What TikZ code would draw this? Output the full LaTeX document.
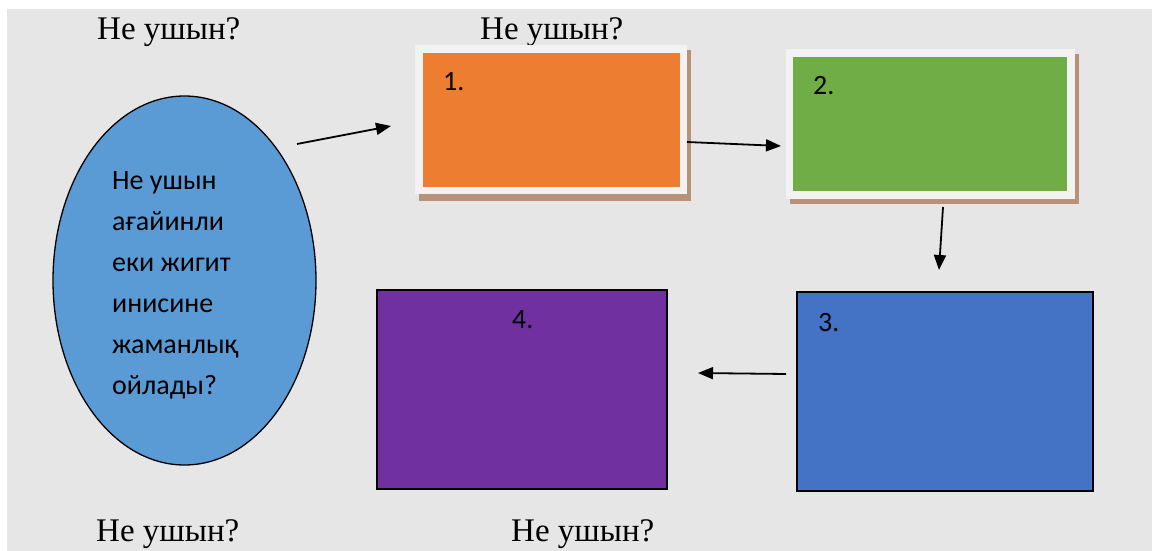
\documentclass[tikz,border=0pt]{standalone}
\usepackage{fontspec}
\setmainfont{Liberation Serif}
\newfontfamily\calfont{Carlito}
\usetikzlibrary{arrows.meta,shapes.geometric}
\definecolor{bgray}{RGB}{231,230,230}
\definecolor{ellblue}{RGB}{91,155,213}
\definecolor{orangefill}{RGB}{237,125,49}
\definecolor{greenfill}{RGB}{112,173,71}
\definecolor{bluefill}{RGB}{68,114,196}
\definecolor{purplefill}{RGB}{112,48,160}
\definecolor{framewhite}{RGB}{242,242,242}
\definecolor{shadowtan}{RGB}{185,145,120}
\tikzset{
  heading/.style={font=\fontsize{33}{36}\selectfont, anchor=base west, inner sep=0},
  boxlabel/.style={font=\calfont\fontsize{28}{30}\selectfont, anchor=base west, inner sep=0},
  arr/.style={line width=1.8pt, -{Triangle[length=15pt,width=12pt]}},
  plainbox/.style={anchor=north west, inner sep=0, outer sep=0},
}
\begin{document}
\begin{tikzpicture}[x=1pt,y=-1pt]
\useasboundingbox (0,0) rectangle (1152,551);
\fill[white] (0,0) rectangle (1152,551);
\fill[bgray] (7,9) rectangle (1152,551);

% headings
\node[heading] (h1) at (97,40) {Не ушын?};
\node[heading] (h2) at (480,40) {Не ушын?};
\node[heading] (h3) at (96,541) {Не ушын?};
\node[heading] (h4) at (511,541) {Не ушын?};

% ellipse
\node[ellipse, draw=black, line width=1.3pt, fill=ellblue, minimum width=263, minimum height=369, inner sep=0] (ell) at (184.5,280.5) {};
\node[font=\calfont\fontsize{28}{41}\selectfont, align=left, anchor=north west, inner sep=0] (elltext) at (112,171.5)
  {Не ушын\\ағайинли\\еки жигит\\инисине\\жаманлық\\ойлады?};

% box 1 (orange) with frame and shadow
\fill[shadowtan] (419,50) rectangle (691,201);
\node[plainbox, fill=framewhite, minimum width=272, minimum height=149] (f1) at (415,45) {};
\node[plainbox, fill=orangefill, minimum width=257, minimum height=134] (b1) at (423,53) {};
\node[boxlabel] (l1) at (443,91) {1.};

% box 2 (green) with frame and shadow
\fill[shadowtan] (790,54) rectangle (1079,204);
\node[plainbox, fill=framewhite, minimum width=289, minimum height=150] (f2) at (786,49) {};
\node[plainbox, fill=greenfill, minimum width=274, minimum height=134] (b2) at (793,57) {};
\node[boxlabel] (l2) at (813,95) {2.};

% box 3 (blue)
\node[plainbox, draw=black, line width=2pt, fill=bluefill, minimum width=296, minimum height=199] (b3) at (797,292) {};
\node[boxlabel] (l3) at (818,331) {3.};

% box 4 (purple)
\node[plainbox, draw=black, line width=1.5pt, fill=purplefill, minimum width=290, minimum height=199] (b4) at (377,290) {};
\node[boxlabel] (l4) at (512,328) {4.};

% connector end points
\coordinate (a1s) at (297,144);
\coordinate (a1e) at (391,126);
\coordinate (a2s) at (687,142);
\coordinate (a2e) at (781,146);
\coordinate (a3s) at (943,207);
\coordinate (a3e) at (939,270);
\coordinate (a4s) at (786,374);
\coordinate (a4e) at (698,373);

\draw[arr] (a1s) -- (a1e);
\draw[arr] (a2s) -- (a2e);
\draw[arr] (a3s) -- (a3e);
\draw[arr] (a4s) -- (a4e);
\end{tikzpicture}
\end{document}
